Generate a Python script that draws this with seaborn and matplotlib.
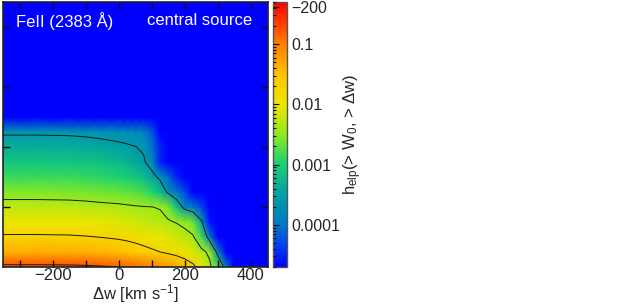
import numpy as np
import matplotlib
matplotlib.use("Agg")
import matplotlib.pyplot as plt
import seaborn as sns
from matplotlib.colors import LinearSegmentedColormap, LogNorm
from matplotlib.ticker import FixedLocator, NullFormatter

# velocity offset nodes [km/s] and equivalent width nodes
dw_nodes = [-360, -250, -150, -100, -50, 0, 25, 50, 75, 100, 125, 150, 175,
            200, 225, 250, 275, 300, 325, 350, 460]
w0_nodes = [0.0, 0.25, 0.5, 0.75, 1.0, 1.25, 1.5, 1.75, 2.0, 2.25, 2.5, 4.5]

FLOOR = -6.0  # no absorbers left -> below colour range

# log10 h_elp read row by row (W0 = 0 ... 2.25); the tail of each row is empty
log_h_rows = [
    [-0.70, -0.70, -0.71, -0.73, -0.76, -0.80, -0.84, -0.89, -0.95, -1.02, -1.10,
     -1.19, -1.30, -1.45, -1.65, -1.95, -2.30, -2.80, -3.84],
    [-1.35, -1.35, -1.36, -1.38, -1.42, -1.48, -1.52, -1.57, -1.63, -1.69, -1.75,
     -1.82, -1.90, -2.00, -2.12, -2.27, -2.50, -3.81],
    [-1.70, -1.70, -1.71, -1.73, -1.76, -1.80, -1.83, -1.87, -1.92, -1.97, -2.03,
     -2.10, -2.18, -2.27, -2.36, -2.80, -3.90],
    [-2.00, -2.00, -2.01, -2.03, -2.06, -2.10, -2.13, -2.17, -2.21, -2.26, -2.31,
     -2.36, -2.42, -2.50, -2.65, -3.45, -4.60],
    [-2.25, -2.25, -2.26, -2.28, -2.31, -2.33, -2.35, -2.37, -2.385, -2.395, -2.42,
     -2.60, -3.10, -3.75, -4.00, -4.30],
    [-2.55, -2.55, -2.56, -2.58, -2.61, -2.65, -2.68, -2.72, -2.80, -2.95, -3.20,
     -3.65, -4.00, -4.30],
    [-2.85, -2.85, -2.86, -2.88, -2.92, -2.97, -3.02, -3.10, -3.22, -3.40, -3.65,
     -4.10, -4.50],
    [-3.10, -3.10, -3.11, -3.13, -3.17, -3.23, -3.30, -3.40, -3.50, -3.75, -4.50],
    [-3.35, -3.35, -3.36, -3.38, -3.42, -3.47, -3.50, -3.54, -3.60, -4.00, -4.50],
    [-3.60, -3.60, -3.61, -3.63, -3.66, -3.70, -3.73, -3.77, -3.85, -4.20],
    [],
    [],
]

contour_levels = [-3.55, -2.4, -1.75, -0.8]

cbar_ticks = [1e-4, 1e-3, 1e-2, 1e-1, 0.41]
cbar_labels = ["0.0001", "0.001", "0.01", "0.1", "\u2212200"]

n = len(dw_nodes)
log_h = np.array([r + [FLOOR] * (n - len(r)) for r in log_h_rows])
h = 10.0 ** log_h

sns.set_theme(style="ticks")
plt.rcParams["font.family"] = ["Liberation Sans", "DejaVu Sans"]
plt.rcParams["mathtext.fontset"] = "custom"
plt.rcParams["mathtext.rm"] = "Liberation Sans"
plt.rcParams["mathtext.it"] = "Liberation Sans"

cmap = LinearSegmentedColormap.from_list("elp", [
    (0.00, (0.00, 0.00, 1.00)),
    (0.08, (0.00, 0.25, 0.95)),
    (0.16, (0.00, 0.47, 0.78)),
    (0.27, (0.00, 0.62, 0.66)),
    (0.39, (0.10, 0.82, 0.45)),
    (0.50, (0.55, 0.92, 0.12)),
    (0.61, (0.93, 0.90, 0.00)),
    (0.72, (1.00, 0.78, 0.00)),
    (0.84, (1.00, 0.50, 0.00)),
    (1.00, (1.00, 0.00, 0.00)),
])
norm = LogNorm(vmin=10 ** -4.7, vmax=10 ** -0.3)

fig = plt.figure(figsize=(6.33, 3.05), dpi=100)
ax = fig.add_axes([3 / 633, 38 / 305, 265 / 633, 265 / 305])
cax = fig.add_axes([273 / 633, 38 / 305, 14 / 633, 265 / 305])
ax.set_axisbelow(False)

X, Y = np.meshgrid(dw_nodes, w0_nodes)
mesh = ax.pcolormesh(X, Y, h, cmap=cmap, norm=norm, shading="gouraud")
ax.contour(X, Y, log_h, levels=contour_levels, colors="#1a1a1a",
           linewidths=0.7, linestyles="solid")

ax.set_xlim(-351, 452)
ax.set_ylim(0, 4.42)
ax.xaxis.set_major_locator(FixedLocator([-200, 0, 200, 400]))
ax.xaxis.set_minor_locator(FixedLocator([-300, -100, 100, 300]))
ax.set_xticklabels(["\u2212200", "0", "200", "400"])
ax.yaxis.set_major_locator(FixedLocator([1, 2, 3, 4]))
ax.yaxis.set_major_formatter(NullFormatter())
ax.tick_params(which="both", direction="in", top=True, right=True,
               length=5, width=1, color="#111111", labelsize=12, pad=1)
for s in ax.spines.values():
    s.set_linewidth(1.2)
    s.set_color("#222222")
    s.set_zorder(5)

ax.set_xlabel("\u0394w [km s$^{-1}$]", fontsize=12, labelpad=-1)

ax.text(0.048, 0.93, "FeII (2383 \u00c5)", transform=ax.transAxes, color="white",
        fontsize=12, ha="left", va="center")
ax.text(0.94, 0.93, "central source", transform=ax.transAxes, color="white",
        fontsize=12, ha="right", va="center")

cb = fig.colorbar(mesh, cax=cax)
cb.set_ticks(cbar_ticks)
cb.set_ticklabels(cbar_labels)
cax.set_axisbelow(False)
cax.tick_params(which="both", direction="in", left=True, right=False,
                labelleft=False, labelright=True, labelsize=11.5,
                color="#111111", width=0.8, pad=3)
cax.tick_params(which="major", length=4)
cax.tick_params(which="minor", length=2.5)
cb.outline.set_edgecolor("#555555")
cb.outline.set_linewidth(1)
cb.set_label("h$_{\\rm elp}$(> W$_0$, > \u0394w)", fontsize=12, labelpad=1)

fig.savefig("out.png", dpi=100)
